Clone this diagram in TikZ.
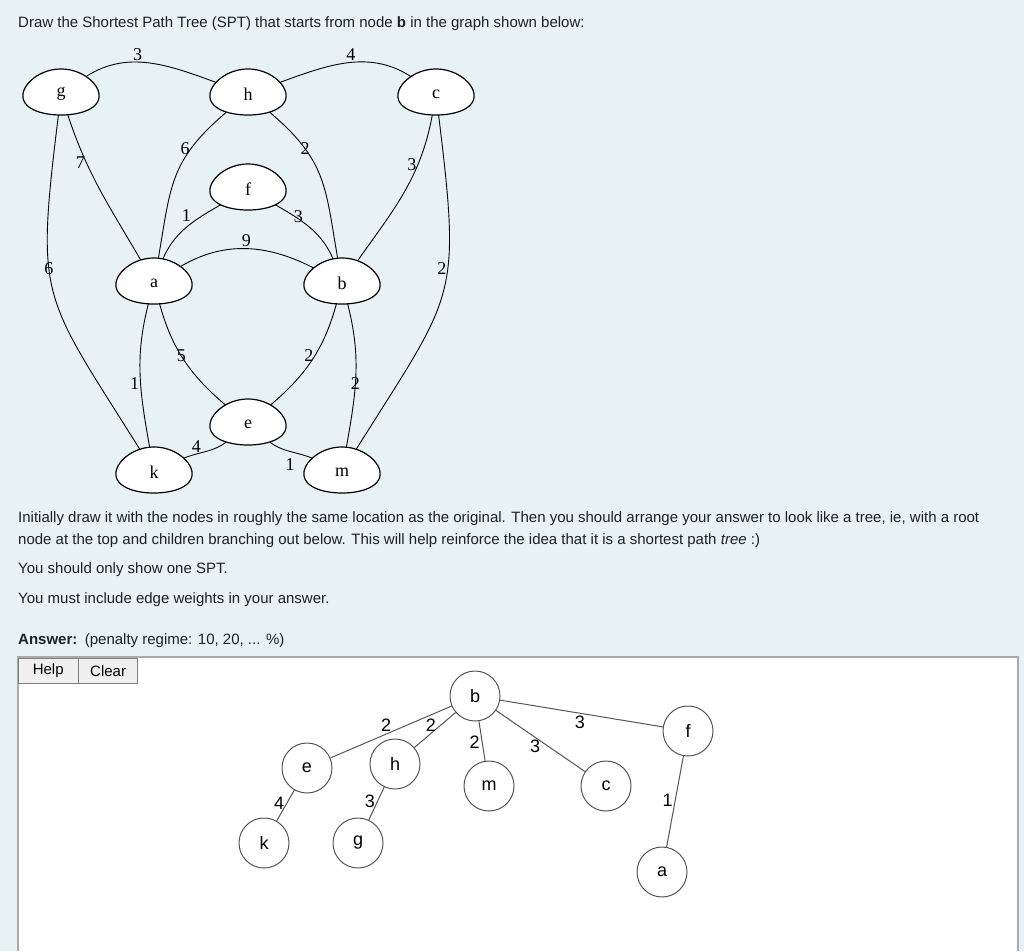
\documentclass[tikz,border=0pt]{standalone}
\usepackage{fontspec}
\setmainfont{Liberation Sans}
\newfontfamily\graphfont{Liberation Serif}
\usetikzlibrary{shapes.geometric,positioning}

\definecolor{pagebg}{RGB}{231,242,245}
\definecolor{btnfill}{RGB}{240,240,240}
\definecolor{boxline}{RGB}{170,170,170}
\definecolor{treeline}{RGB}{85,85,85}
\definecolor{inktext}{RGB}{29,33,37}

\pgfdeclarelayer{backdrop}
\pgfdeclarelayer{edgelayer}
\pgfsetlayers{backdrop,edgelayer,main}

\tikzset{
  vert/.style={ellipse, minimum width=70pt, minimum height=38pt, inner sep=0pt,
    font=\graphfont\fontsize{18}{20}\selectfont},
  egg/.style={draw, fill=white, line width=1.2pt},
  link/.style={line width=0.9pt},
  wt/.style={font=\graphfont\fontsize{18}{20}\selectfont, inner sep=1pt},
  tnode/.style={circle, draw=treeline, line width=1pt, minimum size=50pt,
    inner sep=0pt, fill=white, font=\fontsize{18}{20}\selectfont},
  tlink/.style={draw=treeline, line width=1pt},
  twt/.style={font=\fontsize{18}{20}\selectfont, inner sep=2pt},
  body/.style={anchor=base west, inner sep=0pt, text=inktext,
    font=\fontsize{15}{18}\selectfont},
  btn/.style={draw=gray, fill=btnfill, minimum height=25pt, inner sep=0pt,
    anchor=north west, font=\fontsize{15}{18}\selectfont}
}

\begin{document}
\begin{tikzpicture}[x=1pt, y=1pt]
  \useasboundingbox (0,0) rectangle (1024,-951);

  % page and answer box
  \begin{pgfonlayer}{backdrop}
    \fill[pagebg] (0,0) rectangle (1024,-951);
    \fill[white] (18,-657) rectangle (1018,-951);
    \draw[boxline, line width=1.5pt] (18,-951) -- (18,-657) -- (1018,-657) -- (1018,-951);
  \end{pgfonlayer}

  % question text
  \node[body] (intro) at (18,-27) {Draw the Shortest Path Tree (SPT) that starts from node \textbf{b} in the graph shown below:};
  \node[body] (hint1) at (18,-522) {Initially draw it with the nodes in roughly the same location as the original. Then you should arrange your answer to look like a tree, ie, with a root};
  \node[body] (hint2) at (18,-544) {node at the top and children branching out below. This will help reinforce the idea that it is a shortest path \textit{tree} :)};
  \node[body] (hint3) at (18,-573) {You should only show one SPT.};
  \node[body] (hint4) at (18,-603) {You must include edge weights in your answer.};
  \node[body] (ans) at (18,-644) {\textbf{Answer:}\enspace (penalty regime: 10, 20, ... \%)};

  % buttons
  \node[btn, minimum width=60pt] (help) at (18,-658) {Help};
  \node[btn, minimum width=59pt] (clear) at (help.north east) {Clear};

  % graph vertices (egg outline, then the name)
  \foreach \n/\px/\py in {g/61/94, h/248/94, c/436/94, f/248/189, a/154/283,
                          b/342/283, e/248/424, k/154/472, m/342/472}{
    \draw[egg] plot[variable=\t, domain=0:360, samples=91]
      ({\px+38*cos(\t)*(1-0.08*sin(\t))}, {-\py+23*sin(\t)+2*sin(\t)*sin(\t)}) -- cycle;
    \node[vert] (\n) at (\px,-\py) {\n};
  }

  % graph edges with weights
  \begin{pgfonlayer}{edgelayer}
    \draw[link] (g) to[out=35, in=160] node[wt, pos=.42, above] {3} (h);
    \draw[link] (h) to[out=20, in=145] node[wt, pos=.52, above] {4} (c);
    \draw[link] (g) to[out=-72, in=120] node[wt, pos=.3, left] {7} (a);
    \draw[link] (g) to[out=-97, in=122, looseness=1.4] node[wt, pos=.4] {6} (k);
    \draw[link] (h) to[out=-140, in=80, looseness=1.2] node[wt, pos=.28, left] {6} (a);
    \draw[link] (h) to[out=-40, in=100, looseness=1.2] node[wt, pos=.28] {2} (b);
    \draw[link] (c) to[out=-100, in=55] node[wt, pos=.3, left] {3} (b);
    \draw[link] (c) to[out=-83, in=58, looseness=1.4] node[wt, pos=.4, left] {2} (m);
    \draw[link] (f) to[out=-150, in=70] node[wt, pos=.4, above left] {1} (a);
    \draw[link] (f) to[out=-30, in=110] node[wt, pos=.27, right=-2pt] {3} (b);
    \draw[link] (a) to[out=32, in=152] node[wt, pos=.5, above] {9} (b);
    \draw[link] (a) to[out=-105, in=100] node[wt, pos=.55, left] {1} (k);
    \draw[link] (a) to[out=-75, in=140] node[wt, pos=.45] {5} (e);
    \draw[link] (b) to[out=-105, in=40] node[wt, pos=.45, left] {2} (e);
    \draw[link] (b) to[out=-75, in=80] node[wt, pos=.55] {2} (m);
    \draw[link] (e) to[out=-140, in=25] node[wt, pos=.7, above] {4} (k);
    \draw[link] (e) to[out=-40, in=155] node[wt, pos=.5, below=6pt] {1} (m);
  \end{pgfonlayer}

  % answer: shortest path tree from b
  \node[tnode] (tb) at (475,-696) {b};
  \node[tnode] (te) at (307,-768) {e};
  \node[tnode] (th) at (395,-764) {h};
  \node[tnode] (tm) at (489,-786) {m};
  \node[tnode] (tc) at (606,-786) {c};
  \node[tnode] (tf) at (688,-731) {f};
  \node[tnode] (tk) at (264,-843) {k};
  \node[tnode] (tg) at (358,-843) {g};
  \node[tnode] (ta) at (662,-872) {a};

  \draw[tlink] (tb) -- node[twt, pos=.54, above] {2} (te);
  \draw[tlink] (tb) -- node[twt, pos=.6, above] {2} (th);
  \draw[tlink] (tb) -- node[twt, pos=.52, left] {2} (tm);
  \draw[tlink] (tb) -- node[twt, pos=.44, below] {3} (tc);
  \draw[tlink] (tb) -- node[twt, pos=.49, below] {3} (tf);
  \draw[tlink] (te) -- node[twt, pos=.43, left] {4} (tk);
  \draw[tlink] (th) -- node[twt, pos=.44, left] {3} (tg);
  \draw[tlink] (tf) -- node[twt, pos=.49, left] {1} (ta);
\end{tikzpicture}
\end{document}
